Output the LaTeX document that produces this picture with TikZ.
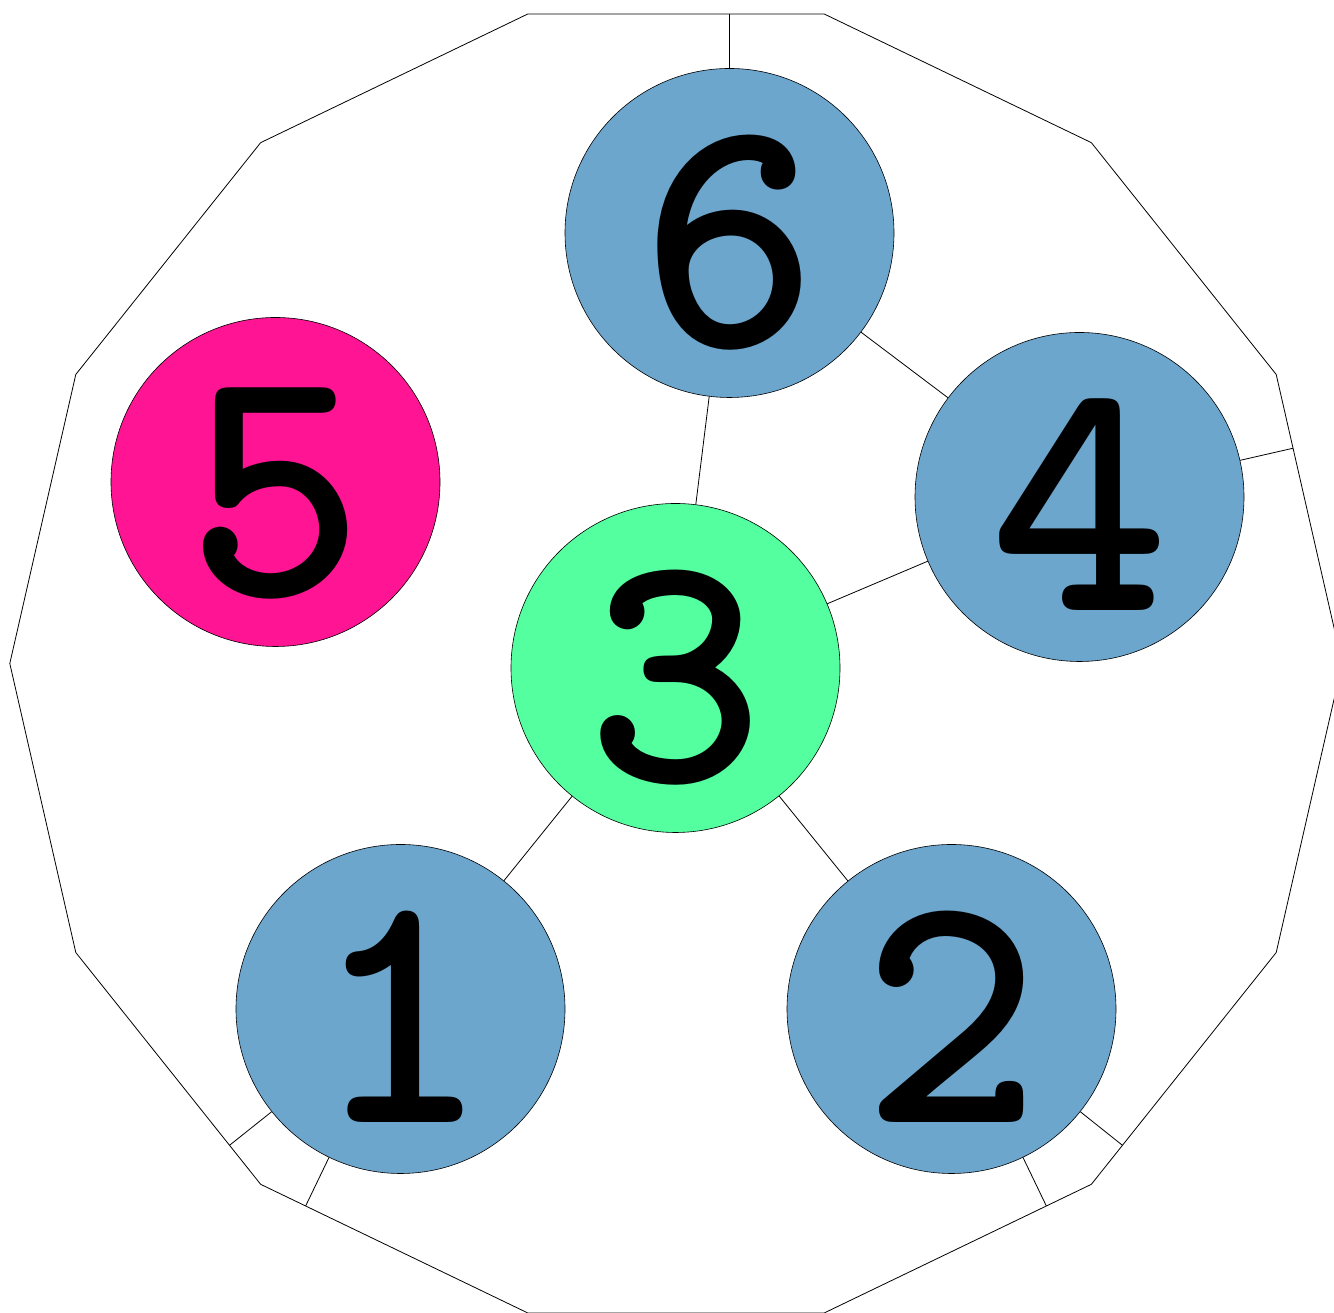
\documentclass[tikz,border=0pt]{standalone}
\usepackage{fontspec}
\usepackage{graphicx}
\newfontfamily\digitfont{lmmonolt10-bold.otf}
\newcommand{\dg}[1]{\scalebox{3.4}{\digitfont\fontsize{100}{100}\selectfont #1}}
\usetikzlibrary{calc}
\definecolor{nodeblue}{RGB}{108,166,205}
\definecolor{nodepink}{RGB}{255,20,147}
\definecolor{nodegreen}{RGB}{84,255,159}
\tikzset{
  ball/.style={circle, draw=black, line width=0.6pt, minimum size=329pt, inner sep=0pt,
    text height=228pt, text depth=0pt},
  link/.style={draw=black, line width=0.8pt},
  wall/.style={draw=black, line width=0.8pt}
}
\begin{document}
\begin{tikzpicture}[x=1pt,y=1pt]
\useasboundingbox (0,0) rectangle (1334,1313);
\clip (0,0) rectangle (1334,1313);
\coordinate (c) at (676,649.5);
\foreach \k in {0,...,13}{
  \coordinate (v\k) at ($(c)+({\k*360/14}:666.2)$);
}
\draw[wall] (v0) \foreach \k in {1,...,13}{ -- (v\k)} -- cycle;

\node[ball, fill=nodeblue]  (n6) at (729.5,1080) {\dg{6}};
\node[ball, fill=nodepink]  (n5) at (275.5,831) {\dg{5}};
\node[ball, fill=nodegreen] (n3) at (675.5,645) {\dg{3}};
\node[ball, fill=nodeblue]  (n4) at (1079.5,816) {\dg{4}};
\node[ball, fill=nodeblue]  (n1) at (400.5,304) {\dg{1}};
\node[ball, fill=nodeblue]  (n2) at (951.5,304) {\dg{2}};

\draw[link] (n6) -- (n3);
\draw[link] (n6) -- (n4);
\draw[link] (n3) -- (n4);
\draw[link] (n3) -- (n1);
\draw[link] (n3) -- (n2);

\coordinate (p6) at ($(v3)!(n6.center)!(v4)$);
\coordinate (p4) at ($(v0)!(n4.center)!(v1)$);
\coordinate (p1a) at ($(v8)!(n1.center)!(v9)$);
\coordinate (p1b) at ($(v9)!(n1.center)!(v10)$);
\coordinate (p2a) at ($(v11)!(n2.center)!(v12)$);
\coordinate (p2b) at ($(v12)!(n2.center)!(v13)$);
\draw[wall] (n6) -- (p6);
\draw[wall] (n4) -- (p4);
\draw[wall] (n1) -- (p1a);
\draw[wall] (n1) -- (p1b);
\draw[wall] (n2) -- (p2a);
\draw[wall] (n2) -- (p2b);
\end{tikzpicture}
\end{document}
